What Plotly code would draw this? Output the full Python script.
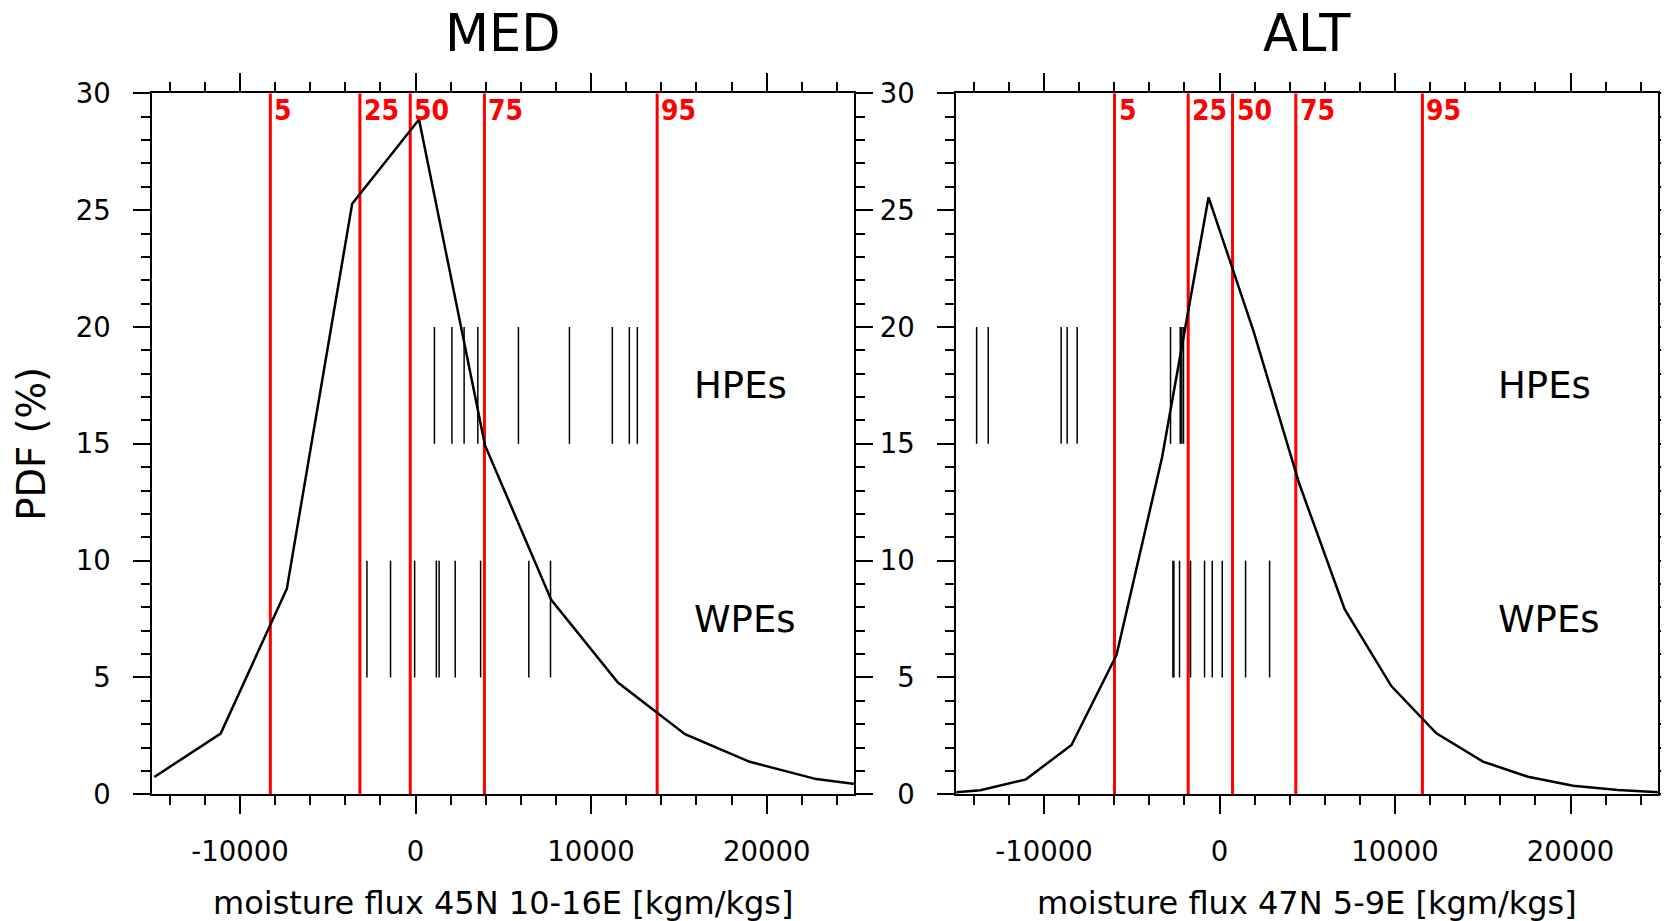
import plotly.graph_objects as go

# ---------------- data ----------------
panel_titles = ["MED", "ALT"]
x_titles = ["moisture flux 45N 10-16E [kgm/kgs]", "moisture flux 47N 5-9E [kgm/kgs]"]
pct_labels = ["5", "25", "50", "75", "95"]
x_tick_vals = [-10000, 0, 10000, 20000]
x_tick_text = ["-10000", "0", "10000", "20000"]

med_x = [-14880, -11100, -7330, -3610, 200, 3960, 7730, 11530, 15350, 19040, 22830, 26600]
med_y = [0.74, 2.6, 8.8, 25.27, 28.88, 14.93, 8.32, 4.78, 2.57, 1.39, 0.65, 0.3]
med_pct = [-8270, -3170, -300, 3925, 13765]
med_hpe = [1077, 2073, 2768, 3549, 5862, 8767, 11211, 12179, 12635]
med_wpe = [-2768, -1424, -51, 1185, 1344, 2261, 3708, 6454, 7690]

alt_x = [-16220, -13626, -11031, -8436, -5872, -3280, -627, 1944, 4539, 7127, 9789,
         12355, 15011, 17577, 20143, 22709, 25299]
alt_y = [0.02, 0.17, 0.64, 2.11, 5.96, 14.4, 25.55, 19.8, 13.3, 7.92, 4.63,
         2.61, 1.40, 0.75, 0.37, 0.18, 0.08]
alt_pct = [-5985, -1785, 740, 4345, 11560]
alt_hpe = [-13842, -13181, -9025, -8683, -8113, -2794, -2240, -2150, -2053]
alt_wpe = [-2660, -2600, -2281, -1653, -855, -416, 154, 1482, 2851]

hpe_band = [15, 20]
wpe_band = [5, 10]
event_labels = ["HPEs", "WPEs"]

# ---------------- figure ----------------
PAGE_W, PAGE_H = 1669, 921
OFF = 8                       # default page body margin
W, H = PAGE_W - OFF, PAGE_H - OFF
FONT = "DejaVu Sans"
FONT_C = "DejaVu Sans Condensed, DejaVu Sans"
fig = go.Figure()


def px_x(p):
    return (p - OFF) / W


def px_y(p):
    return (H - (p - OFF)) / H


x_domains = [[px_x(152.2), px_x(854.4)], [px_x(956.3), px_x(1658.3)]]
y_domain = [px_y(794.3), px_y(93.3)]


def segs(xs, band):
    X, Y = [], []
    for v in xs:
        X += [v, v, None]
        Y += [band[0], band[1], None]
    return X, Y


panels = [
    (med_x, med_y, med_pct, med_hpe, med_wpe),
    (alt_x, alt_y, alt_pct, alt_hpe, alt_wpe),
]

for i, (cx, cy, pct, hpe, wpe) in enumerate(panels):
    xa = "x" if i == 0 else "x2"
    ya = "y" if i == 0 else "y2"
    px, py = segs(pct, [0, 30])
    fig.add_trace(go.Scatter(x=px, y=py, mode="lines", xaxis=xa, yaxis=ya,
                             line=dict(color="#ff0000", width=3), showlegend=False,
                             hoverinfo="skip"))
    hx, hy = segs(hpe, hpe_band)
    fig.add_trace(go.Scatter(x=hx, y=hy, mode="lines", xaxis=xa, yaxis=ya,
                             line=dict(color="black", width=1.5), showlegend=False))
    wx, wy = segs(wpe, wpe_band)
    fig.add_trace(go.Scatter(x=wx, y=wy, mode="lines", xaxis=xa, yaxis=ya,
                             line=dict(color="black", width=1.5), showlegend=False))
    fig.add_trace(go.Scatter(x=cx, y=cy, mode="lines", xaxis=xa, yaxis=ya,
                             line=dict(color="black", width=2.5), showlegend=False))
    for v, lab in zip(pct, pct_labels):
        fig.add_annotation(x=v, y=29.25, xref=xa, yref=ya, text="<b>%s</b>" % lab,
                           showarrow=False, xanchor="left", yanchor="middle", xshift=2,
                           font=dict(family=FONT_C, size=28, color="#ff0000"))
    fig.add_annotation(x=18500, y=17.5, xref=xa, yref=ya, xanchor="center",
                       yanchor="middle", text=event_labels[0], showarrow=False,
                       font=dict(family=FONT, size=37, color="black"))
    fig.add_annotation(x=18750 if i == 0 else 18800, y=7.5, xref=xa, yref=ya,
                       xanchor="center", yanchor="middle",
                       text=event_labels[1], showarrow=False,
                       font=dict(family=FONT, size=37, color="black"))
    xc = (x_domains[i][0] + x_domains[i][1]) / 2
    fig.add_annotation(x=xc, y=px_y(34), xref="paper", yref="paper",
                       text=panel_titles[i], showarrow=False, xanchor="center",
                       yanchor="middle",
                       font=dict(family=FONT, size=51, color="black"))
    fig.add_annotation(x=xc, y=px_y(903), xref="paper", yref="paper",
                       text=x_titles[i], showarrow=False, xanchor="center",
                       yanchor="middle",
                       font=dict(family=FONT, size=32, color="black"))

fig.add_annotation(x=px_x(32), y=px_y(443.8), xref="paper", yref="paper",
                   text="PDF (%)", showarrow=False, textangle=-90,
                   xanchor="center", yanchor="middle",
                   font=dict(family=FONT, size=38.5, color="black"))

axis_common = dict(showline=True, linewidth=2, linecolor="black", mirror="allticks",
                   ticks="outside", tickwidth=2, tickcolor="black", showgrid=False,
                   zeroline=False, automargin=False,
                   tickfont=dict(family=FONT, size=27.5, color="black"))

for i in range(2):
    xkey = "xaxis" if i == 0 else "xaxis2"
    ykey = "yaxis" if i == 0 else "yaxis2"
    fig.update_layout(**{
        xkey: dict(axis_common, domain=x_domains[i], range=[-15000, 25000],
                   tickmode="array", tickvals=x_tick_vals, ticktext=x_tick_text,
                   ticklen=18, ticklabelstandoff=14,
                   minor=dict(tickmode="linear", tick0=0, dtick=2000, ticklen=9,
                              tickwidth=1.5, ticks="outside", tickcolor="black"),
                   anchor="y" if i == 0 else "y2"),
        ykey: dict(axis_common, domain=y_domain, range=[0, 30],
                   tickmode="linear", tick0=0, dtick=5, ticklen=17,
                   ticklabelstandoff=17,
                   minor=dict(tickmode="linear", tick0=0, dtick=1, ticklen=9,
                              tickwidth=1.5, ticks="outside", tickcolor="black"),
                   anchor="x" if i == 0 else "x2"),
    })

fig.update_layout(width=W, height=H, margin=dict(l=0, r=0, t=0, b=0, autoexpand=False),
                  paper_bgcolor="white", plot_bgcolor="white", showlegend=False,
                  font=dict(family=FONT, color="black"))

fig.write_html("out.html")
